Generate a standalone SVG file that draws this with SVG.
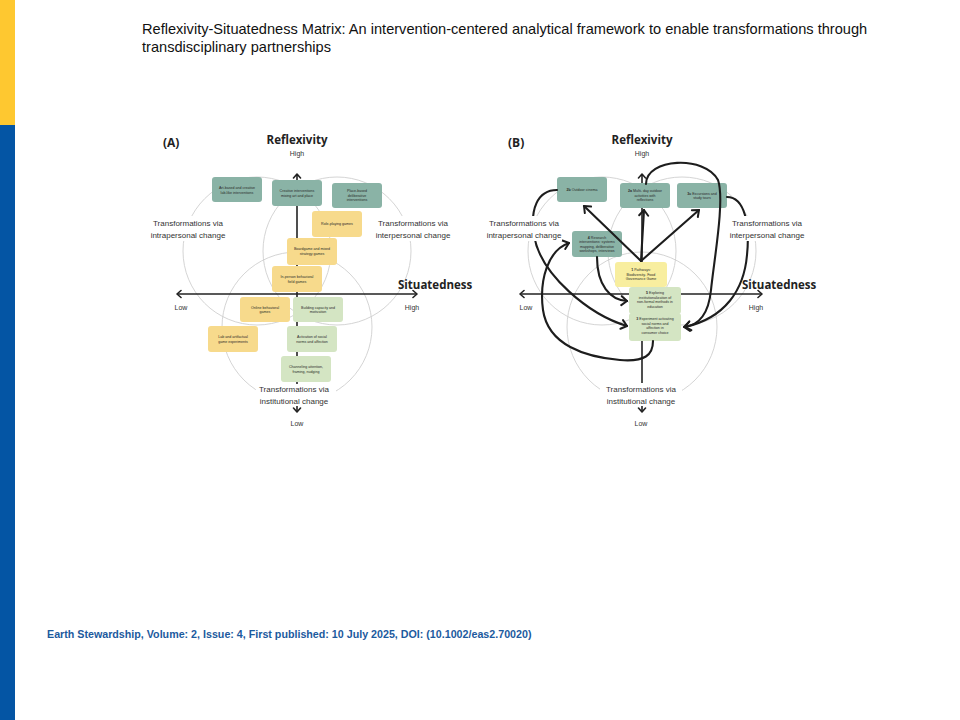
<svg xmlns="http://www.w3.org/2000/svg" width="960" height="720" viewBox="0 0 960 720">
<style>
.title{font-family:"Liberation Sans",Arial,sans-serif;font-size:14.6px;fill:#111}
.foot{font-family:"Liberation Sans",Arial,sans-serif;font-size:10.7px;font-weight:bold;fill:#1c5a9e}
.ax{font-family:"Open Sans","DejaVu Sans",sans-serif;font-weight:bold;fill:#222}
.hl{font-family:"Liberation Sans",Arial,sans-serif;font-size:7px;fill:#333;text-anchor:middle}
.tr{font-family:"Liberation Sans",Arial,sans-serif;font-size:8px;fill:#333;text-anchor:middle}
.bx{font-family:"Liberation Sans",Arial,sans-serif;font-size:3.6px;fill:#2a2a2a;text-anchor:middle}
.circ{fill:none;stroke:#cfcfcf;stroke-width:0.9}
.axis{stroke:#222;stroke-width:1.6;fill:none}
.teal{fill:#8ab3a6}
.yel{fill:#f7da8c}
.pyel{fill:#f8ee9f}
.grn{fill:#d4e5c3}
.con{fill:none;stroke:#1d1d1d;stroke-width:2.1;stroke-linecap:round}
.wb{fill:#fff}
</style>
<defs>
<marker id="ah" viewBox="-8 -6 9 12" markerWidth="9" markerHeight="12" refX="0" refY="0" orient="auto" markerUnits="userSpaceOnUse">
<path d="M-5.5,-4.5 L0,0 L-5.5,4.5" fill="none" stroke="#1d1d1d" stroke-width="2" stroke-linecap="round" stroke-linejoin="round"/>
</marker>
<marker id="axh" viewBox="-6 -5 7 10" markerWidth="7" markerHeight="10" refX="0" refY="0" orient="auto" markerUnits="userSpaceOnUse">
<path d="M-4,-3.5 L0,0 L-4,3.5" fill="none" stroke="#222" stroke-width="1.6" stroke-linecap="round" stroke-linejoin="round"/>
</marker>
</defs>
<rect width="960" height="720" fill="#fff"/>
<rect x="0" y="0" width="15" height="125" fill="#fec830"/>
<rect x="0" y="125" width="15" height="595" fill="#0455a4"/>
<text class="title" x="142" y="34">Reflexivity-Situatedness Matrix: An intervention-centered analytical framework to enable transformations through</text>
<text class="title" x="142" y="52">transdisciplinary partnerships</text>
<text class="foot" x="47" y="638">Earth Stewardship, Volume: 2, Issue: 4, First published: 10 July 2025, DOI: (10.1002/eas2.70020)</text>

<g id="panelA">
<g id="circlesA">
<circle class="circ" cx="257" cy="251" r="74"/>
<circle class="circ" cx="337" cy="251" r="74"/>
<circle class="circ" cx="297" cy="327" r="75"/>
</g>
<g id="axesA">
<line class="axis" x1="297" y1="385" x2="297" y2="174" marker-end="url(#axh)"/>
<line class="axis" x1="297" y1="294" x2="177" y2="294" marker-end="url(#axh)"/>
<line class="axis" x1="297" y1="294" x2="417" y2="294" marker-end="url(#axh)"/>
<line class="axis" x1="297" y1="405" x2="297" y2="412" marker-end="url(#axh)"/>
<text class="ax" x="163" y="147" font-size="12">(A)</text>
<text class="ax" x="297" y="144" font-size="11.5" text-anchor="middle">Reflexivity</text>
<text class="hl" x="297" y="156">High</text>
<text class="ax" x="398" y="289" font-size="11.5">Situatedness</text>
<text class="hl" x="181" y="310">Low</text>
<text class="hl" x="412" y="310">High</text>
<text class="hl" x="297" y="426">Low</text>
</g>
<g id="labelsA">
<rect class="wb" x="150" y="216" width="76" height="25"/>
<text class="tr" x="188" y="226">Transformations via</text>
<text class="tr" x="188" y="238">intrapersonal change</text>
<rect class="wb" x="376" y="216" width="76" height="25"/>
<text class="tr" x="413" y="226">Transformations via</text>
<text class="tr" x="413" y="238">interpersonal change</text>
<rect class="wb" x="256" y="384" width="80" height="22"/>
<text class="tr" x="294" y="392">Transformations via</text>
<text class="tr" x="294" y="404">institutional change</text>
</g>
<g id="a-art"><rect class="teal" x="212" y="177" width="50" height="25" rx="3"/><text class="bx" x="237" y="189"><tspan x="237">Art-based and creative</tspan><tspan x="237" dy="4.5">lab-like interventions</tspan></text></g>
<g id="a-creative"><rect class="teal" x="272" y="180" width="50" height="26" rx="3"/><text class="bx" x="297" y="192"><tspan x="297">Creative interventions</tspan><tspan x="297" dy="4.5">mixing art and place</tspan></text></g>
<g id="a-place"><rect class="teal" x="332" y="183" width="50" height="25" rx="3"/><text class="bx" x="357" y="192"><tspan x="357">Place-based</tspan><tspan x="357" dy="4.5">deliberative</tspan><tspan x="357" dy="4.5">interventions</tspan></text></g>
<g id="a-role"><rect class="yel" x="312" y="211" width="50" height="26" rx="3"/><text class="bx" x="337" y="225">Role-playing games</text></g>
<g id="a-board"><rect class="yel" x="287" y="238" width="50" height="27" rx="3"/><text class="bx" x="312" y="250"><tspan x="312">Boardgame and mixed</tspan><tspan x="312" dy="4.5">strategy games</tspan></text></g>
<g id="a-inperson"><rect class="yel" x="272" y="266" width="50" height="26" rx="3"/><text class="bx" x="297" y="278"><tspan x="297">In-person behavioral</tspan><tspan x="297" dy="4.5">field games</tspan></text></g>
<g id="a-online"><rect class="yel" x="240" y="297" width="50" height="25" rx="3"/><text class="bx" x="265" y="308.5"><tspan x="265">Online behavioral</tspan><tspan x="265" dy="4.5">games</tspan></text></g>
<g id="a-building"><rect class="grn" x="293" y="297" width="50" height="25" rx="3"/><text class="bx" x="318" y="308.5"><tspan x="318">Building capacity and</tspan><tspan x="318" dy="4.5">motivation</tspan></text></g>
<g id="a-lab"><rect class="yel" x="208" y="326" width="50" height="26" rx="3"/><text class="bx" x="233" y="338"><tspan x="233">Lab and artifactual</tspan><tspan x="233" dy="4.5">game experiments</tspan></text></g>
<g id="a-activation"><rect class="grn" x="287" y="326" width="50" height="26" rx="3"/><text class="bx" x="312" y="338"><tspan x="312">Activation of social</tspan><tspan x="312" dy="4.5">norms and affection</tspan></text></g>
<g id="a-channel"><rect class="grn" x="281" y="356" width="50" height="26" rx="3"/><text class="bx" x="306" y="368"><tspan x="306">Channeling attention,</tspan><tspan x="306" dy="4.5">framing, nudging</tspan></text></g>
</g>

<g id="panelB">
<g id="circlesB">
<circle class="circ" cx="602" cy="251" r="74"/>
<circle class="circ" cx="682" cy="251" r="74"/>
<circle class="circ" cx="642" cy="327" r="75"/>
</g>
<g id="axesB">
<line class="axis" x1="642" y1="383" x2="642" y2="174" marker-end="url(#axh)"/>
<line class="axis" x1="642" y1="294" x2="520" y2="294" marker-end="url(#axh)"/>
<line class="axis" x1="642" y1="294" x2="762" y2="294" marker-end="url(#axh)"/>
<line class="axis" x1="642" y1="405" x2="642" y2="412" marker-end="url(#axh)"/>
<text class="ax" x="508" y="147" font-size="12">(B)</text>
<text class="ax" x="642" y="144" font-size="11.5" text-anchor="middle">Reflexivity</text>
<text class="hl" x="642" y="156">High</text>
<text class="ax" x="742" y="289" font-size="11.5">Situatedness</text>
<text class="hl" x="526" y="310">Low</text>
<text class="hl" x="756" y="310">High</text>
<text class="hl" x="641" y="426">Low</text>
</g>
<g id="b-2b"><rect class="teal" x="557" y="177" width="50" height="25" rx="3"/><text class="bx" x="582" y="190.5"><tspan font-weight="bold">2b</tspan> Outdoor cinema</text></g>
<g id="b-2a"><rect class="teal" x="620" y="183" width="50" height="25" rx="3"/><text class="bx" x="645" y="192"><tspan x="645"><tspan font-weight="bold">2a</tspan> Multi- day outdoor</tspan><tspan x="645" dy="4.5">activities with</tspan><tspan x="645" dy="4.5">reflections</tspan></text></g>
<g id="b-3c"><rect class="teal" x="677" y="183" width="50" height="25" rx="3"/><text class="bx" x="702" y="194.5"><tspan x="702"><tspan font-weight="bold">3c</tspan> Excursions and</tspan><tspan x="702" dy="4.5">study tours</tspan></text></g>
<g id="b-4"><rect class="teal" x="572" y="231" width="50" height="26" rx="3"/><text class="bx" x="597" y="238.5"><tspan x="597"><tspan font-weight="bold">4</tspan> Research</tspan><tspan x="597" dy="4.5">interventions: systems</tspan><tspan x="597" dy="4.5">mapping, deliberative</tspan><tspan x="597" dy="4.5">workshops, interviews</tspan></text></g>
<g id="b-1"><rect class="pyel" x="615" y="262" width="52" height="25" rx="3"/><text class="bx" x="641" y="271"><tspan x="641"><tspan font-weight="bold">1</tspan> Pathways:</tspan><tspan x="641" dy="4.5">Biodiversity- Food</tspan><tspan x="641" dy="4.5">Governance Game</tspan></text></g>
<g id="b-5"><rect class="grn" x="629" y="287" width="52" height="27" rx="3"/><text class="bx" x="655" y="294"><tspan x="655"><tspan font-weight="bold">5</tspan> Exploring</tspan><tspan x="655" dy="4.5">institutionalization of</tspan><tspan x="655" dy="4.5">non-formal methods in</tspan><tspan x="655" dy="4.5">education</tspan></text></g>
<g id="b-3"><rect class="grn" x="629" y="313" width="52" height="28" rx="3"/><text class="bx" x="655" y="320"><tspan x="655"><tspan font-weight="bold">3</tspan> Experiment activating</tspan><tspan x="655" dy="4.5">social norms and</tspan><tspan x="655" dy="4.5">affection in</tspan><tspan x="655" dy="4.5">consumer choice</tspan></text></g>
<g id="connectorsB">
<path class="con" d="M641,261 L584,206" marker-end="url(#ah)"/>
<path class="con" d="M641,261 L644,210" marker-end="url(#ah)"/>
<path class="con" d="M641,261 L699,210" marker-end="url(#ah)"/>
<path class="con" d="M646,184 C646,158 705,155 718,180 C725,200 714,260 711,290 C709,310 702,325 684,327" marker-end="url(#ah)"/>
<path class="con" d="M727,197 C745,197 750,225 747,255 C744,290 725,318 685,327" marker-end="url(#ah)"/>
<path class="con" d="M557,190 C537,190 530,210 534,235 C540,275 590,315 627,326" marker-end="url(#ah)"/>
<path class="con" d="M597,257 C597,285 610,300 627,301" marker-end="url(#ah)"/>
<path class="con" d="M653,341 C653,355 645,362 620,360 C585,357 548,345 543,310 C539,280 548,250 569,243" marker-end="url(#ah)"/>
</g>
<g id="labelsB">
<rect class="wb" x="486" y="216" width="76" height="25"/>
<text class="tr" x="524" y="226">Transformations via</text>
<text class="tr" x="524" y="238">intrapersonal change</text>
<rect class="wb" x="729" y="216" width="76" height="25"/>
<text class="tr" x="767" y="226">Transformations via</text>
<text class="tr" x="767" y="238">interpersonal change</text>
<rect class="wb" x="600" y="384" width="82" height="22"/>
<text class="tr" x="641" y="392">Transformations via</text>
<text class="tr" x="641" y="404">institutional change</text>
</g>
</g>
</svg>
